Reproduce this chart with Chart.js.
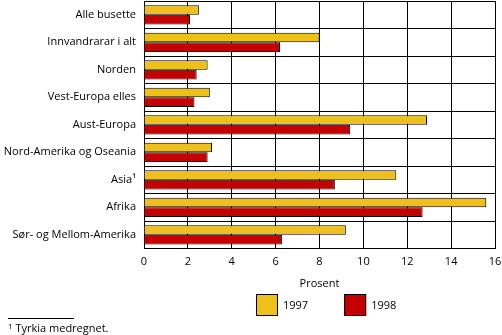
<!DOCTYPE html>
<html>
<head>
<meta charset="utf-8">
<script src="https://cdn.jsdelivr.net/npm/chart.js@4"></script>
<style>
  html, body { margin: 0; padding: 0; background: #fff; }
  #wrap { position: relative; width: 502px; height: 335px; }
  canvas { position: absolute; left: 0; top: 0; }
  #fnline { position: absolute; left: 8px; top: 318px; width: 66px; height: 0; border-top: 1px solid #000; }
  #fn { position: absolute; left: 8px; top: 320px; font: 11px "Open Sans", sans-serif; color: #000; white-space: nowrap; }
  #fn sup { font-size: 8px; vertical-align: 3px; line-height: 0; }
</style>
</head>
<body>
<div id="wrap">
  <canvas id="c" width="502" height="335"></canvas>
  <div id="fnline"></div>
  <div id="fn"><sup>1</sup> Tyrkia medregnet.</div>
</div>
<script>
const categories = ['Alle busette', 'Innvandrarar i alt', 'Norden', 'Vest-Europa elles', 'Aust-Europa', 'Nord-Amerika og Oseania', 'Asia\u00b9', 'Afrika', 'S\u00f8r- og Mellom-Amerika'];
const values1997 = [2.5, 8.0, 2.9, 3.0, 12.9, 3.1, 11.5, 15.6, 9.2];
const values1998 = [2.1, 6.2, 2.4, 2.3, 9.4, 2.9, 8.7, 12.7, 6.3];
const seriesLabels = ['1997', '1998'];
const xTickValues = [0, 2, 4, 6, 8, 10, 12, 14, 16];
const axisTitle = 'Prosent';

const FONT = '"Open Sans", sans-serif';
Chart.defaults.font.family = FONT;
Chart.defaults.font.size = 11;
Chart.defaults.color = '#000';

const legendPlugin = {
  id: 'customLegend',
  afterDraw(chart) {
    const ctx = chart.ctx;
    const area = chart.chartArea;
    const box = 22;
    let x = area.left + 112;
    const y = area.bottom + 45.5;
    ctx.save();
    ctx.font = '11px ' + FONT;
    ctx.textBaseline = 'middle';
    ctx.textAlign = 'left';
    chart.data.datasets.forEach((ds) => {
      ctx.fillStyle = ds.backgroundColor;
      ctx.fillRect(x, y, box, box);
      ctx.lineWidth = 1;
      ctx.strokeStyle = '#000';
      ctx.strokeRect(x + 0.5, y + 0.5, box - 1, box - 1);
      ctx.fillStyle = '#000';
      ctx.fillText(ds.label, x + box + 5, y + box / 2 + 0.5);
      x += box + 5 + ctx.measureText(ds.label).width + 36;
    });
    ctx.restore();
  }
};

new Chart(document.getElementById('c'), {
  type: 'bar',
  data: {
    labels: categories,
    datasets: [
      { label: seriesLabels[0], data: values1997, backgroundColor: '#F0C01A', borderColor: '#000', borderWidth: 1 },
      { label: seriesLabels[1], data: values1998, backgroundColor: '#C40000', borderColor: '#000', borderWidth: 1 }
    ]
  },
  options: {
    indexAxis: 'y',
    responsive: false,
    animation: false,
    devicePixelRatio: 1,
    layout: { padding: { top: 1, bottom: 44.5, left: 0, right: 0 } },
    datasets: { bar: { categoryPercentage: 0.7, barPercentage: 1.0 } },
    plugins: { legend: { display: false }, tooltip: { enabled: false } },
    scales: {
      x: {
        min: 0, max: 16,
        afterBuildTicks(scale) { scale.ticks = xTickValues.map(v => ({ value: v })); },
        afterFit(scale) { scale.paddingLeft = 0; scale.paddingRight = 7; scale.height = 42; },
        ticks: { padding: 7, color: '#000', font: { size: 11 } },
        grid: { color: '#000', lineWidth: 1, drawTicks: false },
        border: { color: '#000', width: 1 },
        title: { display: true, text: axisTitle, color: '#000', font: { size: 11 }, padding: 0 }
      },
      y: {
        afterFit(scale) { scale.width = 144; scale.paddingTop = 0; scale.paddingBottom = 0; },
        ticks: { padding: 8, color: '#000', font: { size: 11 } },
        grid: { color: '#000', lineWidth: 1, drawTicks: false, offset: true },
        border: { color: '#000', width: 1 }
      }
    }
  },
  plugins: [legendPlugin]
});
</script>
</body>
</html>
